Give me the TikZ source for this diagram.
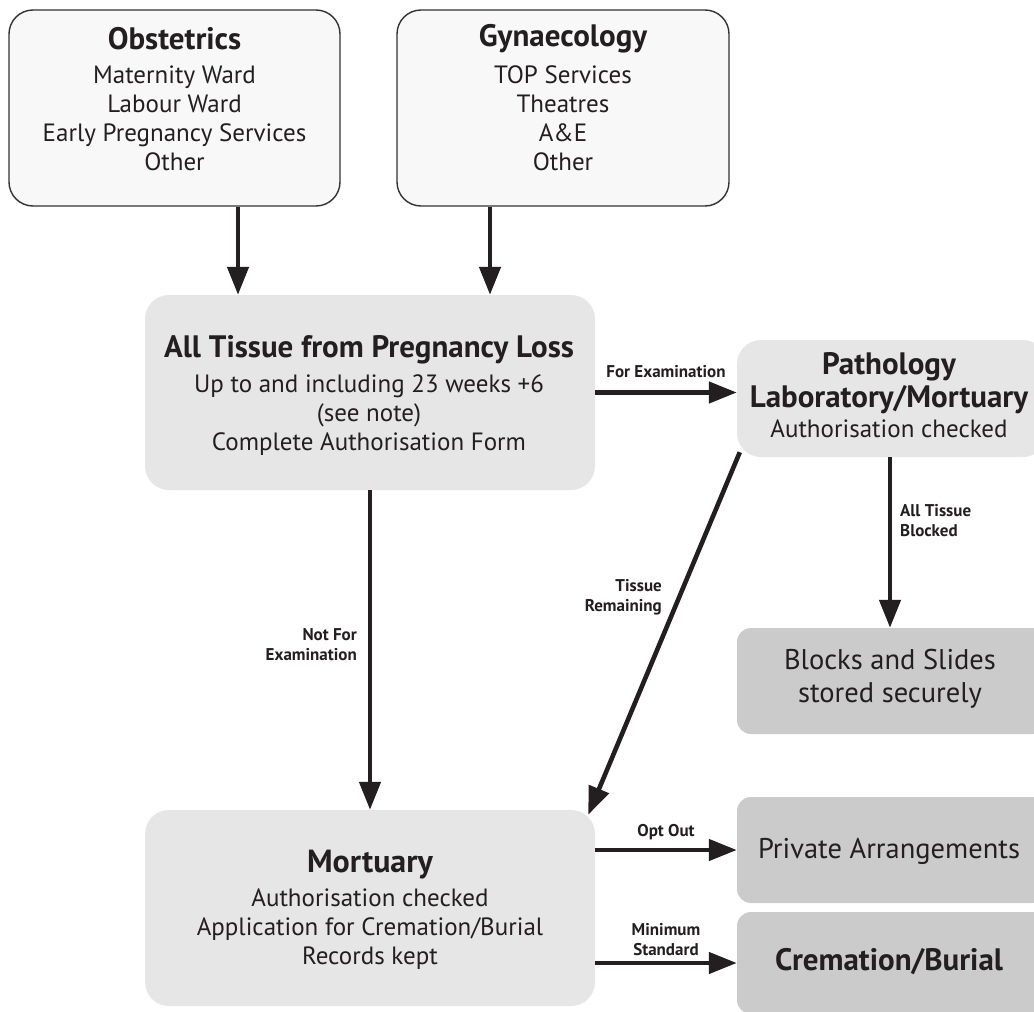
\documentclass[tikz,border=0pt]{standalone}
\usepackage{fontspec}
\setmainfont{PT Sans}
\usetikzlibrary{arrows.meta}
\definecolor{topfill}{HTML}{F8F8F8}
\definecolor{lightfill}{HTML}{E6E6E6}
\definecolor{darkfill}{HTML}{CBCBCB}
\definecolor{ink}{HTML}{231F20}
\definecolor{edge}{HTML}{333333}
\begin{document}
\begin{tikzpicture}[x=1pt,y=-1pt,
  topbox/.style={draw=edge,line width=1.4pt,fill=topfill,rounded corners=24pt,inner sep=0pt},
  lightbox/.style={fill=lightfill,rounded corners=24pt,inner sep=0pt},
  darkbox/.style={fill=darkfill,rounded corners=14pt,inner sep=0pt},
  ttl/.style={font=\fontsize{31}{33}\selectfont\bfseries,text=ink,align=center,inner sep=0pt},
  body/.style={font=\fontsize{25}{29}\selectfont,text=ink,align=center,inner sep=0pt},
  big/.style={font=\fontsize{28.5}{33}\selectfont,text=ink,align=center,inner sep=0pt},
  lbl/.style={font=\fontsize{17}{20}\selectfont\bfseries,text=ink,inner sep=0pt},
  arr/.style={line width=4.6pt,draw=ink,-{Triangle[length=28pt,width=21pt]}}]
\useasboundingbox (0,0) rectangle (1034,1012);
\clip (0,0) rectangle (1034,1012);
\fill[white] (0,0) rectangle (1034,1012);
% boxes
\node[topbox,minimum width=331pt,minimum height=196pt] (obs) at (174.5,108) {};
\node[topbox,minimum width=332pt,minimum height=196pt] (gyn) at (563,108) {};
\node[lightbox,minimum width=450pt,minimum height=195pt] (tissue) at (370,392.5) {};
\node[lightbox,minimum width=310pt,minimum height=117pt] (path) at (892,398.5) {};
\node[darkbox,minimum width=310pt,minimum height=106pt] (blocks) at (892,681) {};
\node[lightbox,minimum width=450pt,minimum height=196pt] (mort) at (370,908) {};
\node[darkbox,minimum width=310pt,minimum height=106pt] (priv) at (892,850) {};
\node[darkbox,minimum width=310pt,minimum height=102pt] (crem) at (892,963) {};
% texts
\node[ttl] (obsT) at (174.5,39) {Obstetrics};
\node[body] (obsB) at (174.5,118) {Maternity Ward\\Labour Ward\\Early Pregnancy Services\\Other};
\node[ttl] (gynT) at (563,39) {Gynaecology};
\node[body] (gynB) at (563,118) {TOP Services\\Theatres\\A\&E\\Other};
\node[ttl] (tisT) at (369,350) {All Tissue from Pregnancy Loss};
\node[body] (tisB) at (369,415) {Up to and including 23 weeks +6\\(see note)\\Complete Authorisation Form};
\node[ttl] (pathT) at (889,383) {Pathology\\Laboratory/Mortuary};
\node[body] (pathB) at (889,429) {Authorisation checked};
\node[big] (blocksT) at (890,679) {Blocks and Slides\\stored securely};
\node[ttl,font=\fontsize{32}{33}\selectfont\bfseries] (mortT) at (370,865) {Mortuary};
\node[body] (mortB) at (370,929) {Authorisation checked\\Application for Cremation/Burial\\Records kept};
\node[big] (privT) at (889,851) {Private Arrangements};
\node[ttl] (cremT) at (889,962) {Cremation/Burial};
% connectors
\draw[arr] ([xshift=63.5pt]obs.south) -- ([xshift=63.5pt]obs.south |- tissue.north);
\draw[arr] ([xshift=-73pt]gyn.south) -- ([xshift=-73pt]gyn.south |- tissue.north);
\draw[arr] (tissue.east) -- (tissue.east -| path.west)
  node[lbl,midway,above=12pt] (lfor) {For Examination};
\draw[arr] (tissue.south) -- (mort.north);
\draw[arr] ([xshift=-2pt]path.south) -- ([xshift=-2pt]path.south |- blocks.north);
\draw[arr] ([shift={(3,-5)}]path.south west) -- ([shift={(-7,5)}]mort.north east);
\draw[arr] (priv.west -| mort.east) -- (priv.west)
  node[lbl,midway,above=8pt] (lopt) {Opt Out};
\draw[arr] (crem.west -| mort.east) -- (crem.west)
  node[lbl,midway,above=5pt,align=center] (lmin) {Minimum\\Standard};
% labels
\node[lbl,anchor=west,align=left] (lblk) at (900,521) {All Tissue\\Blocked};
\node[lbl,anchor=east,align=right] (lrem) at (662,597) {Tissue\\Remaining};
\node[lbl,anchor=east,align=right] (lnot) at (357,645) {Not For\\Examination};
\end{tikzpicture}
\end{document}
